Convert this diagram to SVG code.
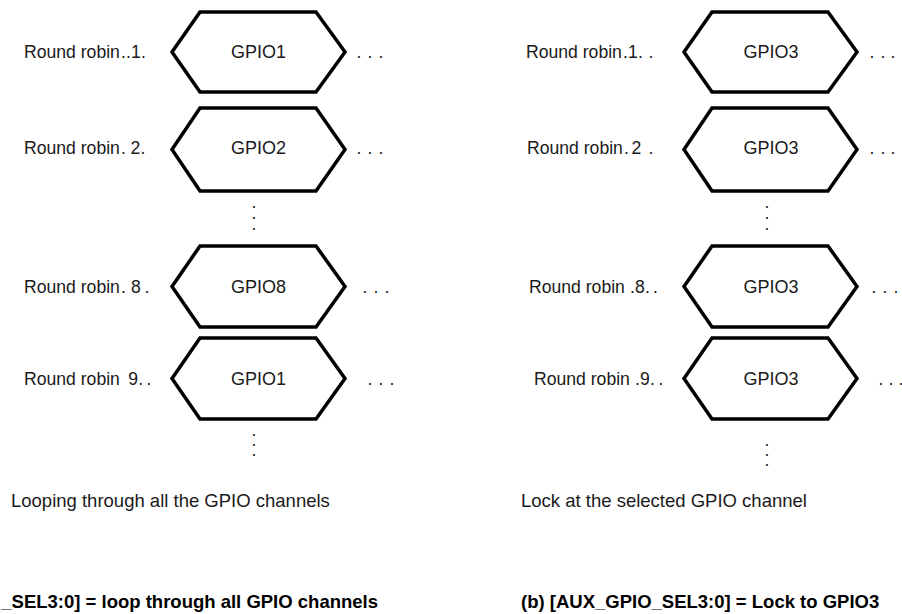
<svg xmlns="http://www.w3.org/2000/svg" width="902" height="614" viewBox="0 0 902 614">
<style>
.hex{fill:#fff;stroke:#000;stroke-width:3.5;stroke-linejoin:miter}
.t{font-family:"Liberation Sans",Arial,sans-serif;fill:#1a1a1a}
.lbl{font-size:17.6px}
.g{font-size:18px;text-anchor:middle}
.cap{font-size:18.5px}
.b{font-size:18.5px;font-weight:bold;fill:#000}
</style>
<rect width="902" height="614" fill="#fff"/>
<g id="left-column">
<g id="L1">
<polygon class="hex" points="172,52 200,12 316,12 345,52 316,92 200,92"/>
<text class="t g" x="258.5" y="58">GPIO1</text>
<text class="t lbl" x="24" y="58">Round robin<tspan x="121">.</tspan><tspan x="126">.</tspan><tspan x="131">1</tspan><tspan x="141">.</tspan></text>
<text class="t lbl" x="356.4 367.4 378.4" y="58">...</text>
</g>
<g id="L2">
<polygon class="hex" points="172,149.5 200,108 316,108 345,149.5 316,191 200,191"/>
<text class="t g" x="258.5" y="154">GPIO2</text>
<text class="t lbl" x="24" y="154">Round robin<tspan x="121">.</tspan><tspan x="130.5">2</tspan><tspan x="140.5">.</tspan></text>
<text class="t lbl" x="356.4 367.4 378.4" y="154">...</text>
</g>
<text class="t lbl" x="251.4 251.4 251.4" y="208 219 230">...</text>
<g id="L8">
<polygon class="hex" points="172,286.5 200,246 316,246 345,286.5 316,327 200,327"/>
<text class="t g" x="258.5" y="293">GPIO8</text>
<text class="t lbl" x="24" y="293">Round robin<tspan x="121">.</tspan><tspan x="131">8</tspan><tspan x="144.5">.</tspan></text>
<text class="t lbl" x="362.4 373.4 384.4" y="293">...</text>
</g>
<g id="L9">
<polygon class="hex" points="172,378.5 200,338 316,338 345,378.5 316,419 200,419"/>
<text class="t g" x="258.5" y="385">GPIO1</text>
<text class="t lbl" x="24" y="385">Round robin<tspan x="128.3">9</tspan><tspan x="138.2">.</tspan><tspan x="146.5">.</tspan></text>
<text class="t lbl" x="367.4 378.4 389.4" y="385">...</text>
</g>
<text class="t lbl" x="251.4 251.4 251.4" y="436 446 456">...</text>
<text class="t cap" x="11" y="507">Looping through all the GPIO channels</text>
<text class="t b" x="378" y="608" text-anchor="end">_SEL3:0] = loop through all GPIO channels</text>
</g>
<g id="right-column">
<g id="R1">
<polygon class="hex" points="684,52 712,12 828,12 857,52 828,92 712,92"/>
<text class="t g" x="771" y="58">GPIO3</text>
<text class="t lbl" x="526" y="58">Round robin<tspan x="623">.</tspan><tspan x="628">1</tspan><tspan x="638">.</tspan><tspan x="648.5">.</tspan></text>
<text class="t lbl" x="869.4 880.4 890.4" y="58">...</text>
</g>
<g id="R2">
<polygon class="hex" points="684,149.5 712,108 828,108 857,149.5 828,191 712,191"/>
<text class="t g" x="771" y="154">GPIO3</text>
<text class="t lbl" x="527" y="154">Round robin<tspan x="624">.</tspan><tspan x="631.5">2</tspan><tspan x="648.5">.</tspan></text>
<text class="t lbl" x="869.4 880.4 890.4" y="154">...</text>
</g>
<text class="t lbl" x="764.4 764.4 764.4" y="208 219 230">...</text>
<g id="R8">
<polygon class="hex" points="684,286.5 712,246 828,246 857,286.5 828,327 712,327"/>
<text class="t g" x="771" y="293">GPIO3</text>
<text class="t lbl" x="529" y="293">Round robin<tspan x="630">.</tspan><tspan x="635">8</tspan><tspan x="645">.</tspan><tspan x="653">.</tspan></text>
<text class="t lbl" x="871.4 882.4 893.4" y="293">...</text>
</g>
<g id="R9">
<polygon class="hex" points="684,378.5 712,338 828,338 857,378.5 828,419 712,419"/>
<text class="t g" x="771" y="385">GPIO3</text>
<text class="t lbl" x="534" y="385">Round robin<tspan x="635">.</tspan><tspan x="640">9</tspan><tspan x="650">.</tspan><tspan x="658.5">.</tspan></text>
<text class="t lbl" x="878.4 888.4 898.4" y="385">...</text>
</g>
<text class="t lbl" x="764.4 764.4 764.4" y="446 456 466">...</text>
<text class="t cap" x="521" y="507">Lock at the selected GPIO channel</text>
<text class="t b" x="521" y="608">(b) [AUX_GPIO_SEL3:0] = Lock to GPIO3</text>
</g>
</svg>
